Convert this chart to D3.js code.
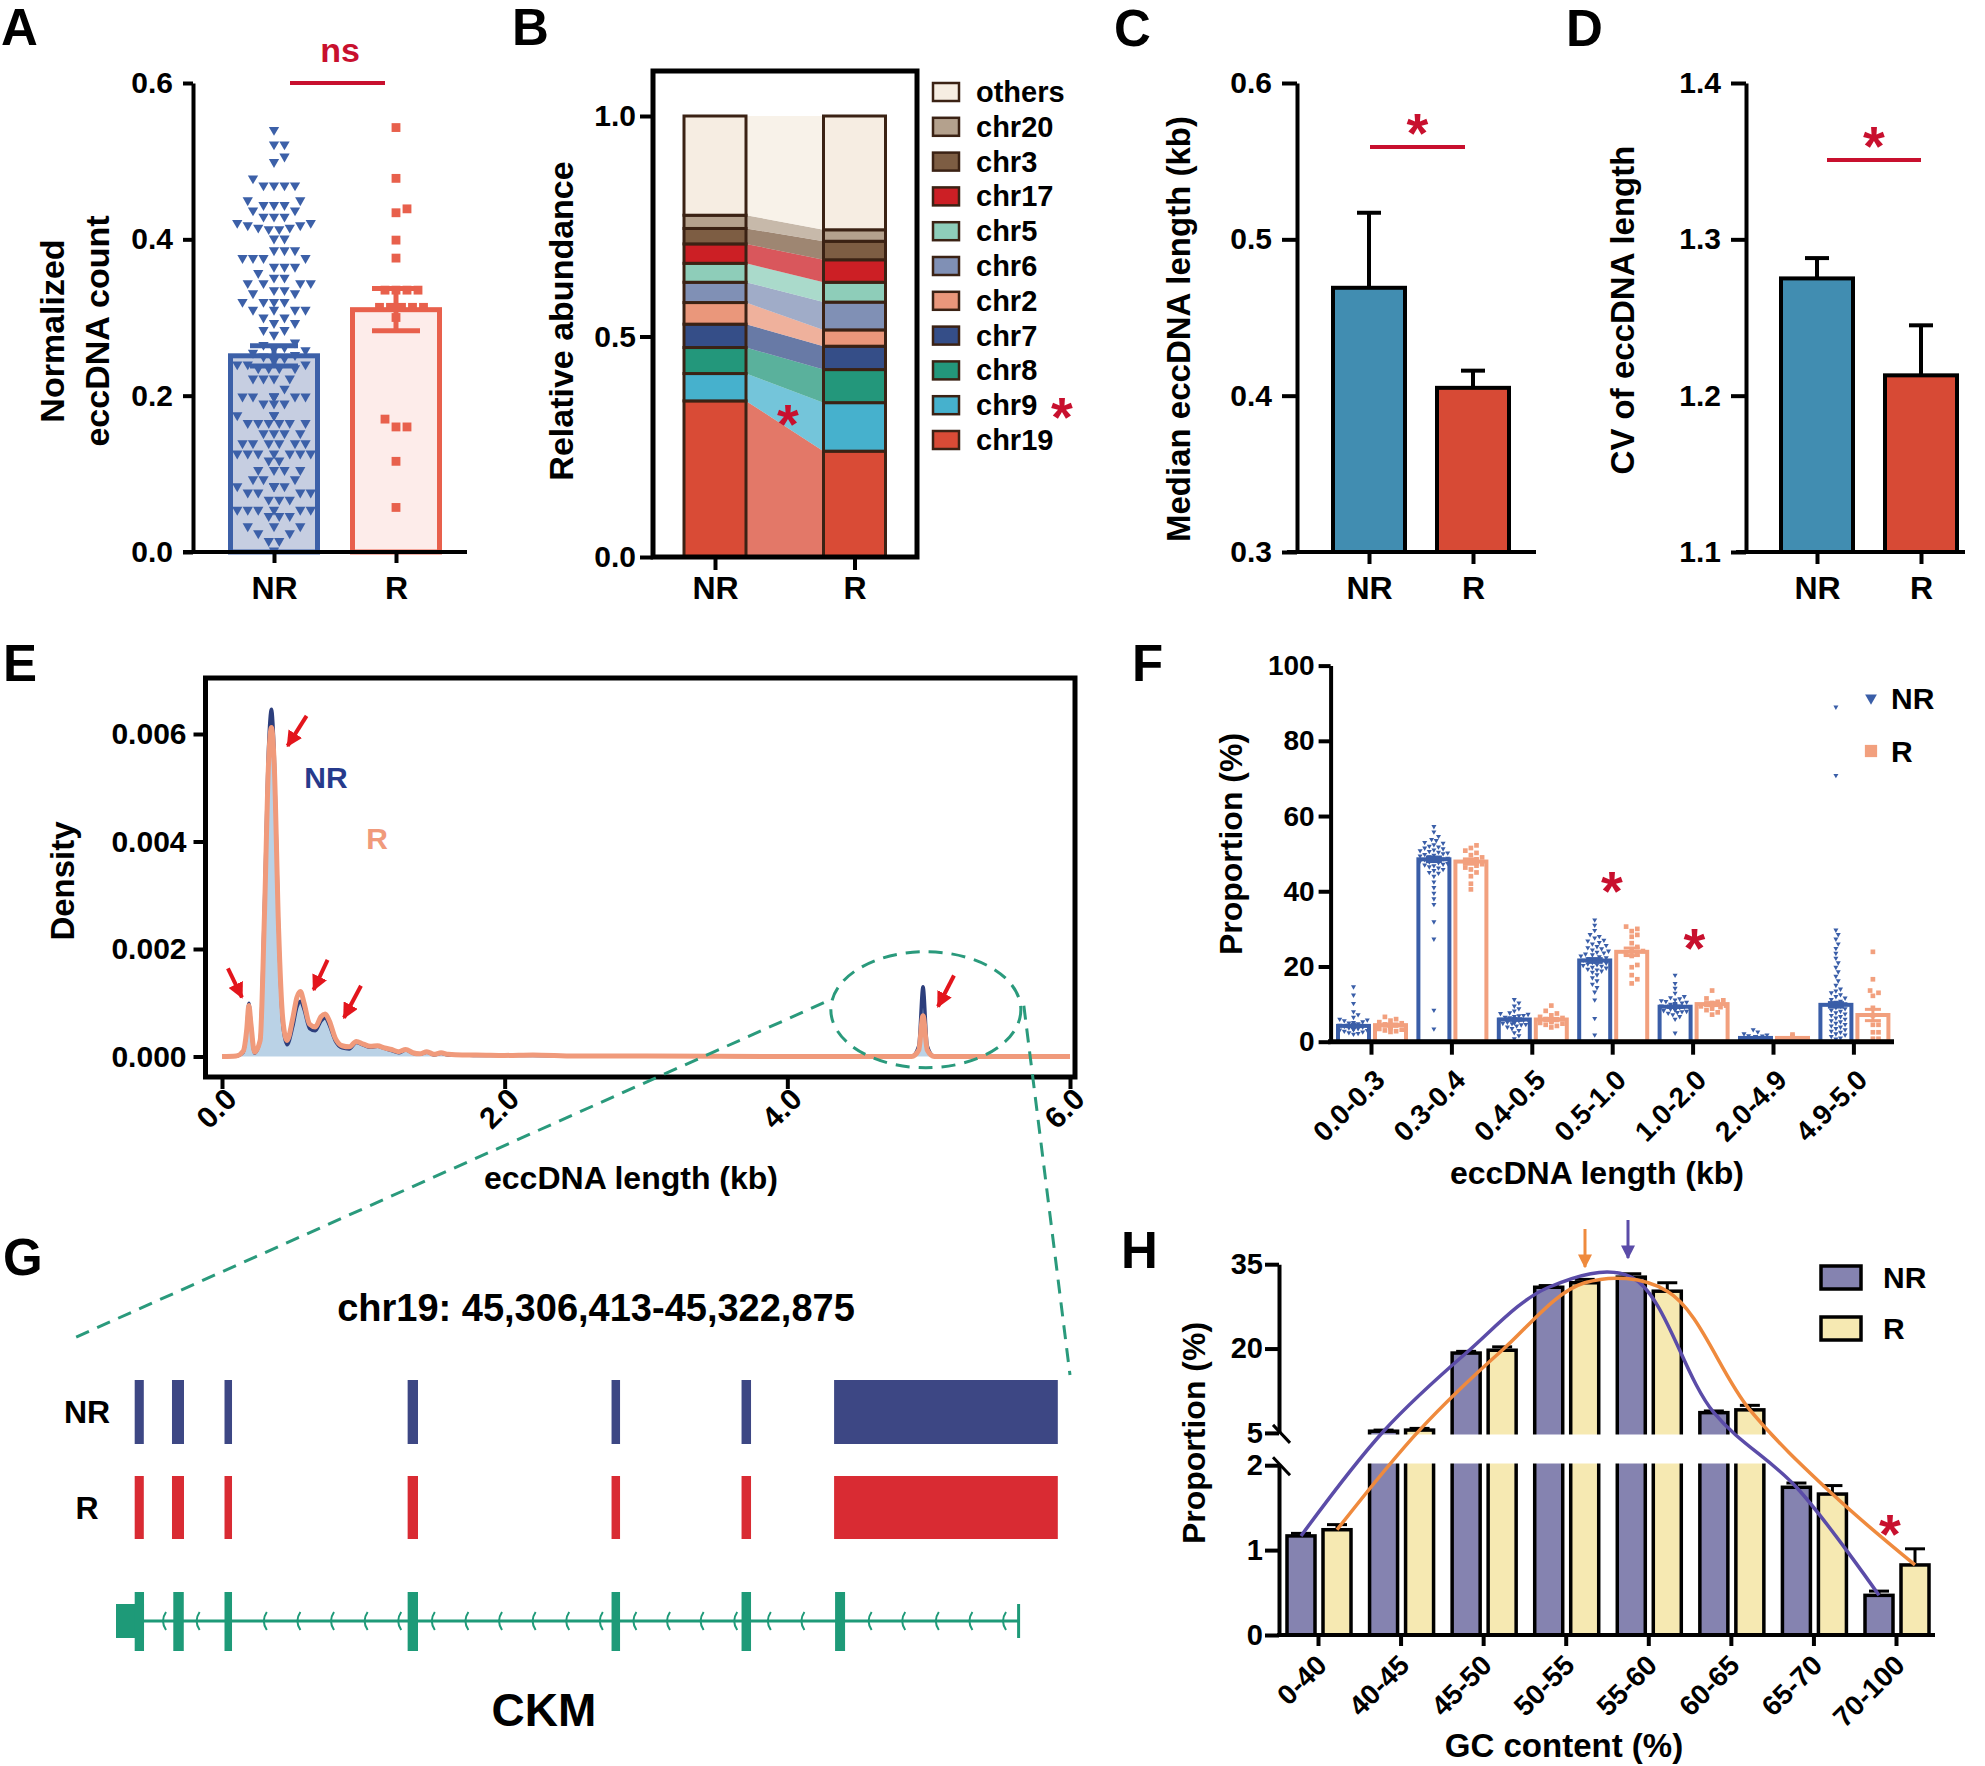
<!DOCTYPE html>
<html>
<head>
<meta charset="utf-8">
<script src="https://cdn.jsdelivr.net/npm/d3@7"></script>
<style>
  body { margin: 0; background: #fff; }
  svg { display: block; }
</style>
</head>
<body>
<div id="chart"></div>
<script>
const FONT = '"Liberation Sans", Arial, Helvetica, sans-serif';
const RED = "#c8102e";

// ---------------- data ----------------
const groups = ["NR", "R"];

// A: normalized eccDNA count per sample
const countNR = [0.540, 0.5215, 0.5215, 0.506, 0.499, 0.478, 0.469, 0.469, 0.469, 0.469,
  0.450, 0.450, 0.444, 0.444, 0.444, 0.437, 0.437, 0.429, 0.429, 0.429,
  0.421, 0.421, 0.418, 0.418, 0.415, 0.415, 0.413, 0.413, 0.401, 0.401,
  0.386, 0.386, 0.386, 0.376, 0.376, 0.376, 0.376, 0.365, 0.365, 0.365, 0.357,
  0.351, 0.351, 0.344, 0.344, 0.344, 0.344, 0.335, 0.335, 0.331, 0.331,
  0.320, 0.320, 0.320, 0.320, 0.310, 0.310, 0.310, 0.310, 0.300, 0.300,
  0.293, 0.293, 0.284, 0.284, 0.278, 0.268, 0.265, 0.262, 0.260, 0.258, 0.255,
  0.252, 0.250, 0.248, 0.245, 0.240, 0.240, 0.240, 0.235, 0.235, 0.235, 0.235,
  0.222, 0.222, 0.222, 0.222, 0.209, 0.199, 0.199, 0.199, 0.199, 0.199, 0.199, 0.199,
  0.190, 0.190, 0.190, 0.175, 0.175, 0.175, 0.165, 0.165, 0.165, 0.165, 0.165, 0.165,
  0.152, 0.152, 0.152, 0.152, 0.139, 0.139, 0.139, 0.139, 0.139, 0.139,
  0.126, 0.126, 0.126, 0.126, 0.126, 0.126, 0.126, 0.117, 0.117,
  0.105, 0.105, 0.105, 0.105, 0.093, 0.093, 0.093, 0.084, 0.084, 0.084, 0.084, 0.084,
  0.076, 0.076, 0.076, 0.076, 0.067, 0.067, 0.067, 0.054, 0.054, 0.054, 0.054, 0.054, 0.054,
  0.046, 0.046, 0.046, 0.033, 0.033, 0.033, 0.024, 0.024, 0.014, 0.014, 0.002];
const countR = [0.543, 0.478, 0.439, 0.434, 0.399, 0.376, 0.335, 0.335, 0.335, 0.335,
  0.313, 0.313, 0.313, 0.313, 0.313, 0.300, 0.170, 0.160, 0.160, 0.116, 0.057];
const countMean = [0.251, 0.310];
const countSem = [0.013, 0.027];

// B: chromosome composition
const chrNames = ["chr19", "chr9", "chr8", "chr7", "chr2", "chr6", "chr5", "chr17", "chr3", "chr20", "others"];
const chrColors = ["#d94b36", "#46b1cd", "#23977b", "#354e88", "#ea977b", "#8090b5",
  "#8ecdb9", "#cc1f25", "#7d5d43", "#b4a18d", "#f6ede2"];
const abundNR = [0.354, 0.062, 0.059, 0.053, 0.049, 0.046, 0.043, 0.044, 0.035, 0.030, 0.225];
const abundR = [0.240, 0.110, 0.075, 0.053, 0.037, 0.063, 0.045, 0.051, 0.042, 0.026, 0.258];

// C, D
const medianLen = [0.469, 0.405];
const medianErr = [0.048, 0.011];
const cvLen = [1.275, 1.213];
const cvErr = [0.013, 0.032];

// E: length density
const eLen = [0, 0.1, 0.15, 0.175, 0.19, 0.205, 0.23, 0.27, 0.3, 0.33, 0.35, 0.37, 0.4, 0.43, 0.46,
  0.5, 0.53, 0.555, 0.58, 0.62, 0.66, 0.7, 0.73, 0.76, 0.8, 0.85, 0.9, 0.95, 1.0, 1.05,
  1.1, 1.15, 1.2, 1.25, 1.3, 1.35, 1.4, 1.45, 1.5, 1.55, 1.6, 1.7, 1.8, 2.0, 2.2,
  2.5, 3.0, 4.0, 4.88, 4.93, 4.96, 4.99, 5.04, 5.2, 6.0];
const densNR = [0, 0.00001, 0.00008, 0.0005, 0.00099, 0.0006, 0.00006, 0.0003, 0.0028, 0.0058, 0.00646, 0.0056, 0.0024, 0.0006, 0.00022,
  0.00055, 0.00092, 0.00103, 0.00088, 0.00052, 0.00048, 0.00066, 0.00072, 0.00058, 0.0003, 0.00016, 0.00014, 0.00026, 0.00021, 0.00017,
  0.00019, 0.00015, 0.00011, 0.00007, 0.00012, 0.00006, 0.00004, 0.00008, 0.00003, 0.00006, 0.00003, 0.00003, 0.00002, 0.00002, 0.00002,
  0.00001, 0.00001, 0, 0, 0.0002, 0.0013, 0.0002, 0, 0, 0];
const densR = [0, 0.00001, 0.0001, 0.0005, 0.00095, 0.0006, 0.00008, 0.0003, 0.0026, 0.0055, 0.00612, 0.0054, 0.0024, 0.0007, 0.0003,
  0.0007, 0.0011, 0.00121, 0.001, 0.0006, 0.00055, 0.00074, 0.00079, 0.00066, 0.00035, 0.0002, 0.00018, 0.00028, 0.00023, 0.00019,
  0.0002, 0.00016, 0.00013, 0.00009, 0.00013, 0.00007, 0.00005, 0.00009, 0.00004, 0.00007, 0.00004, 0.00003, 0.00003, 0.00002, 0.00003,
  0.00001, 0.00001, 0, 0, 0.00012, 0.00076, 0.00012, 0, 0, 0];
const peakArrows = [[0.141, 0.0011, -14, -29], [0.464, 0.00578, 19, -30], [0.648, 0.00124, 14, -30],
  [0.863, 0.00072, 17, -32], [5.066, 0.00093, 16, -31]];

// F: length bins
const lenBins = ["0.0-0.3", "0.3-0.4", "0.4-0.5", "0.5-1.0", "1.0-2.0", "2.0-4.9", "4.9-5.0"];
const binMeanNR = [4.2, 48.5, 5.9, 21.6, 9.3, 1.0, 9.8];
const binMeanR = [4.4, 47.9, 5.9, 23.9, 10.0, 1.0, 7.1];
const binSemNR = [0.2, 0.6, 0.2, 0.5, 0.2, 0.05, 0.6];
const binSemR = [0.3, 0.7, 0.3, 1.0, 0.4, 0.1, 1.5];
const binPtsNR = [
  [14.6, 12.4, 10.2, 8.0, 7.2, 6.5, 6.0, 5.8, 5.6, 5.3, 5.1, 5.0, 4.8, 4.7, 4.6, 4.5, 4.4, 4.4, 4.3, 4.2, 4.2, 4.1, 4.0, 4.0,
    3.9, 3.8, 3.8, 3.7, 3.6, 3.6, 3.5, 3.4, 3.4, 3.3, 3.2, 3.1, 3.0, 2.8, 2.6, 2.4, 2.2, 2.0],
  [57.2, 55.8, 54.6, 53.8, 53.5, 53.0, 52.8, 52.4, 52.0, 51.8, 51.5, 51.3, 51.0, 50.8, 50.6, 50.4, 50.2, 50.0, 49.8, 49.6,
    49.4, 49.2, 49.0, 48.8, 48.6, 48.4, 48.2, 48.0, 47.8, 47.6, 47.4, 47.2, 47.0, 46.8, 46.5, 46.2, 45.8, 45.5, 45.0, 44.8,
    44.0, 42.5, 41.0, 39.5, 38.0, 36.5, 31.9, 27.3, 8.4, 3.4],
  [11.2, 10.3, 9.5, 8.8, 8.2, 7.7, 7.5, 7.3, 7.0, 6.9, 6.7, 6.5, 6.4, 6.2, 6.1, 6.0, 5.9, 5.8, 5.7, 5.6, 5.5, 5.4, 5.3,
    5.2, 5.1, 5.0, 4.9, 4.8, 4.6, 4.5, 4.2, 3.9, 3.5, 3.0, 2.4, 1.6, 0.8],
  [32.4, 31.0, 29.6, 28.5, 28.0, 27.6, 27.0, 26.8, 26.4, 26.0, 25.6, 25.3, 25.0, 24.7, 24.4, 24.1, 23.8, 23.6, 23.3, 23.1,
    22.8, 22.6, 22.3, 22.1, 21.9, 21.7, 21.5, 21.3, 21.1, 20.9, 20.7, 20.5, 20.3, 20.1, 19.8, 19.6, 19.3, 19.1, 18.8, 18.5,
    17.8, 17.0, 16.2, 15.3, 14.4, 13.2, 11.1, 6.2, 1.8],
  [17.7, 15.5, 14.2, 12.9, 12.0, 11.7, 11.4, 11.1, 10.9, 10.7, 10.5, 10.3, 10.2, 10.0, 9.9, 9.7, 9.6, 9.5, 9.4, 9.3, 9.2,
    9.1, 9.0, 8.9, 8.8, 8.7, 8.6, 8.4, 8.3, 8.1, 8.0, 7.8, 7.6, 7.2, 6.7, 6.0, 2.3],
  [3.2, 2.6, 2.1, 1.8, 1.6, 1.5, 1.4, 1.3, 1.2, 1.2, 1.1, 1.0, 1.0, 0.9, 0.9, 0.8, 0.8, 0.7, 0.6, 0.6, 0.5, 0.4, 0.4, 0.3, 0.2],
  [89.0, 70.8, 29.7, 28.5, 27.3, 26.0, 24.8, 23.5, 22.2, 21.0, 19.8, 18.6, 17.4, 16.2, 15.0, 14.0, 13.5, 13.0, 12.5,
    12.0, 11.6, 11.2, 10.8, 10.5, 10.1, 9.8, 9.5, 9.1, 8.8, 8.4, 8.1, 7.7, 7.4, 7.0, 6.7, 6.3, 6.0, 5.6, 5.3, 4.9, 4.6,
    4.2, 3.9, 3.5, 3.2, 2.8, 2.5, 2.1, 1.8, 1.4, 1.0, 0.7]
];
const binPtsR = [
  [6.6, 6.0, 5.6, 5.2, 4.9, 4.6, 4.4, 4.2, 4.0, 3.8, 3.6, 3.4, 3.2, 3.0, 2.8, 2.6],
  [52.2, 51.5, 50.8, 50.2, 49.6, 49.0, 48.5, 48.0, 47.6, 47.2, 46.8, 46.3, 45.8, 45.0, 44.0, 42.0, 40.5],
  [9.6, 8.2, 7.5, 7.0, 6.6, 6.3, 6.0, 5.8, 5.6, 5.4, 5.2, 5.0, 4.8, 4.5, 4.2, 3.8],
  [30.6, 30.0, 29.4, 28.4, 27.9, 26.2, 25.2, 24.6, 24.1, 23.6, 23.2, 22.8, 20.4, 19.8, 17.7, 16.6, 15.5],
  [13.6, 11.5, 11.0, 10.6, 10.3, 10.0, 9.8, 9.6, 9.4, 9.2, 8.8, 8.4, 7.8, 7.2],
  [1.9, 1.5, 1.3, 1.1, 1.0, 0.9, 0.8, 0.7, 0.6, 0.5],
  [23.9, 16.6, 13.6, 13.0, 12.2, 9.0, 7.0, 4.5, 4.5, 2.5, 2.5, 0.8, 0.8]
];

// G: CKM locus
const locusStart = 45306413, locusEnd = 45322875;
const eccStarts = [45306754, 45307434, 45308392, 45311732, 45315451, 45317822, 45319510];
const eccEnds = [45306920, 45307653, 45308529, 45311921, 45315606, 45317995, 45323590];
const exonStarts = [45306754, 45307458, 45308392, 45311732, 45315451, 45317822, 45319528];
const exonEnds = [45306924, 45307649, 45308529, 45311921, 45315606, 45317995, 45319710];
const utrEnd = 45306924;

// H: GC content
const gcBins = ["0-40", "40-45", "45-50", "50-55", "55-60", "60-65", "65-70", "70-100"];
const gcNR = [1.167, 5.3, 19.2, 30.9, 32.7, 8.6, 1.74, 0.467];
const gcR = [1.24, 5.5, 19.7, 31.7, 30.2, 9.1, 1.66, 0.825];
const gcErrNR = [0.03, 0.2, 0.3, 0.3, 0.6, 0.3, 0.05, 0.05];
const gcErrR = [0.06, 0.3, 0.6, 0.6, 1.5, 0.8, 0.1, 0.19];

// ---------------- helpers ----------------
const svg = d3.select("#chart").append("svg")
  .attr("width", 1985).attr("height", 1766)
  .attr("font-family", FONT).attr("font-weight", "bold");
const defs = svg.append("defs");

function txt(x, y, s, fs, o = {}) {
  const t = svg.append("text").attr("x", x).attr("y", y)
    .attr("font-size", fs).attr("fill", o.fill || "#000")
    .attr("text-anchor", o.anchor || "middle")
    .attr("dominant-baseline", o.base || "central").text(s);
  if (o.rot) t.attr("transform", `rotate(${o.rot},${x},${y})`);
  return t;
}
function star(x, y, fs = 60) {
  return txt(x, y + 0.2 * fs, "*", fs, { fill: RED });
}
function axisStyle(g, fs) {
  g.attr("font-size", fs).attr("font-family", FONT).attr("font-weight", "bold");
  g.select(".domain").attr("stroke", "#000").attr("stroke-width", 4);
  g.selectAll(".tick line").attr("stroke", "#000").attr("stroke-width", 4);
  g.selectAll(".tick text").attr("fill", "#000");
}
function rotLabels(g, dx, dy) {
  g.selectAll(".tick text").attr("x", 0).attr("y", 0).attr("dy", 0)
    .attr("text-anchor", "end").attr("transform", `translate(${dx},${dy}) rotate(-45)`);
}
function hline(x1, x2, y, color = "#000", w = 4) {
  svg.append("line").attr("x1", x1).attr("x2", x2).attr("y1", y).attr("y2", y)
    .attr("stroke", color).attr("stroke-width", w);
}
function vline(x, y1, y2, color = "#000", w = 4) {
  svg.append("line").attr("x1", x).attr("x2", x).attr("y1", y1).attr("y2", y2)
    .attr("stroke", color).attr("stroke-width", w);
}
// simple beeswarm: each point goes to the nearest free slot around the centre
function swarm(vals, y, cx, d, maxOff) {
  const placed = [];
  [...vals].sort((a, b) => a - b).forEach(v => {
    const py = y(v);
    let px = cx;
    for (let k = 0; k < 400; k++) {
      const off = (k % 2 ? 1 : -1) * Math.ceil(k / 2) * d / 2;
      if (Math.abs(off) > maxOff) break;
      if (placed.every(p => (p.x - cx - off) ** 2 + (p.y - py) ** 2 >= d * d)) { px = cx + off; break; }
    }
    placed.push({ x: px, y: py });
  });
  return placed;
}
function marker(id, color, size) {
  defs.append("marker").attr("id", id).attr("viewBox", "0 0 10 10")
    .attr("refX", 9).attr("refY", 5).attr("markerWidth", size).attr("markerHeight", size)
    .attr("markerUnits", "userSpaceOnUse").attr("orient", "auto")
    .append("path").attr("d", "M0,0 L10,5 L0,10 z").attr("fill", color);
}
const triDown = (s) => d3.symbol(d3.symbolTriangle, s)();
const square = (s) => d3.symbol(d3.symbolSquare, s)();

// panel letters
[["A", 1, 45], ["B", 512, 45], ["C", 1114, 46], ["D", 1566, 46],
 ["E", 3, 681], ["F", 1132, 681], ["G", 3, 1275], ["H", 1121, 1268]]
  .forEach(([l, x, y]) => txt(x, y, l, 51, { anchor: "start", base: "alphabetic" }));

// ---------------- A ----------------
{
  const y = d3.scaleLinear().domain([0, 0.6]).range([552, 83]);
  const x = d3.scalePoint().domain(groups).range([274, 396]);
  const bw = 87;
  const fills = ["#c6cee1", "#fdecea"], strokes = ["#3c60a8", "#e8604c"];
  groups.forEach((g, i) => {
    svg.append("rect").attr("x", x(g) - bw / 2).attr("y", y(countMean[i]))
      .attr("width", bw).attr("height", y(0) - y(countMean[i]))
      .attr("fill", fills[i]).attr("stroke", strokes[i]).attr("stroke-width", 5);
  });
  svg.append("g").selectAll("path").data(swarm(countNR, y, x("NR"), 10.5, 41)).join("path")
    .attr("d", triDown(46)).attr("transform", d => `translate(${d.x},${d.y}) rotate(180)`)
    .attr("fill", strokes[0]);
  svg.append("g").selectAll("path").data(swarm(countR, y, x("R"), 11, 34)).join("path")
    .attr("d", square(78)).attr("transform", d => `translate(${d.x},${d.y})`)
    .attr("fill", strokes[1]);
  groups.forEach((g, i) => {
    const lo = y(countMean[i] - countSem[i]), hi = y(countMean[i] + countSem[i]);
    vline(x(g), lo, hi, strokes[i], 5);
    hline(x(g) - 24, x(g) + 24, lo, strokes[i], 5);
    hline(x(g) - 24, x(g) + 24, hi, strokes[i], 5);
  });
  const ay = svg.append("g").attr("transform", "translate(193,0)")
    .call(d3.axisLeft(y).tickValues([0, 0.2, 0.4, 0.6]).tickFormat(d3.format(".1f"))
      .tickSize(10).tickPadding(10).tickSizeOuter(0));
  axisStyle(ay, 30);
  hline(183, 467, 552);
  const ax = svg.append("g").attr("transform", "translate(0,552)")
    .call(d3.axisBottom(x).tickSize(11).tickSizeOuter(0));
  ax.select(".domain").remove();
  axisStyle(ax, 32);
  ax.selectAll(".tick text").attr("y", 35).attr("dy", "0.36em");
  txt(52, 331, "Normalized", 34, { rot: -90 });
  txt(97, 331, "eccDNA count", 34, { rot: -90 });
  hline(290, 385, 83, RED, 4);
  txt(340, 50, "ns", 34, { fill: RED });
}

// ---------------- B ----------------
{
  const y = d3.scaleLinear().domain([0, 1]).range([557, 116]);
  const x = d3.scalePoint().domain(groups).range([715, 854.5]);
  const bw = 62;
  const rows = groups.map((g, gi) => {
    const r = { group: g };
    chrNames.forEach((c, ci) => { r[c] = (gi === 0 ? abundNR : abundR)[ci]; });
    return r;
  });
  const series = d3.stack().keys(chrNames)(rows);
  const xl = x("NR") + bw / 2, xr = x("R") - bw / 2;
  svg.append("g").selectAll("path").data(series).join("path")
    .attr("d", s => `M${xl},${y(s[0][0])}L${xl},${y(s[0][1])}L${xr},${y(s[1][1])}L${xr},${y(s[1][0])}Z`)
    .attr("fill", (s, i) => chrColors[i]).attr("fill-opacity", 0.75);
  series.forEach((s, i) => {
    svg.append("g").selectAll("rect").data(s).join("rect")
      .attr("x", d => x(d.data.group) - bw / 2).attr("width", bw)
      .attr("y", d => y(d[1])).attr("height", d => y(d[0]) - y(d[1]))
      .attr("fill", chrColors[i]).attr("stroke", "#3b2214").attr("stroke-width", 3);
  });
  svg.append("rect").attr("x", 653).attr("y", 71).attr("width", 264).attr("height", 486)
    .attr("fill", "none").attr("stroke", "#000").attr("stroke-width", 5);
  const ay = svg.append("g").attr("transform", "translate(653,0)")
    .call(d3.axisLeft(y).tickValues([0, 0.5, 1]).tickFormat(d3.format(".1f"))
      .tickSize(13).tickPadding(4).tickSizeOuter(0));
  ay.select(".domain").remove();
  axisStyle(ay, 30);
  const ax = svg.append("g").attr("transform", "translate(0,557)")
    .call(d3.axisBottom(x).tickSize(13).tickSizeOuter(0));
  ax.select(".domain").remove();
  axisStyle(ax, 32);
  ax.selectAll(".tick text").attr("y", 30).attr("dy", "0.36em");
  txt(561, 321, "Relative abundance", 34, { rot: -90 });
  star(788, 412, 56);
  // legend
  const legend = chrNames.map((c, i) => ({ c, col: chrColors[i] })).reverse();
  legend.forEach((d, i) => {
    const cy = 92 + i * 34.8;
    svg.append("rect").attr("x", 933).attr("y", cy - 9).attr("width", 26).attr("height", 18)
      .attr("fill", d.col).attr("stroke", "#3b2214").attr("stroke-width", 2.5);
    txt(976, cy, d.c, 29, { anchor: "start" });
    if (d.c === "chr9") star(1062, cy, 56);
  });
}

// ---------------- C & D ----------------
function errBarPanel(vals, errs, dom, ticks, axX, xr, endX, label, labX, labY, sigY, sigX) {
  const y = d3.scaleLinear().domain(dom).range([552, 83]);
  const x = d3.scalePoint().domain(groups).range(xr);
  const bw = 72, cols = ["#418db1", "#d74a35"];
  groups.forEach((g, i) => {
    vline(x(g), y(vals[i]), y(vals[i] + errs[i]), "#000", 4);
    hline(x(g) - 12, x(g) + 12, y(vals[i] + errs[i]), "#000", 4);
    svg.append("rect").attr("x", x(g) - bw / 2).attr("y", y(vals[i]))
      .attr("width", bw).attr("height", y(dom[0]) - y(vals[i]))
      .attr("fill", cols[i]).attr("stroke", "#000").attr("stroke-width", 4);
  });
  const ay = svg.append("g").attr("transform", `translate(${axX},0)`)
    .call(d3.axisLeft(y).tickValues(ticks).tickFormat(d3.format(".1f"))
      .tickSize(15).tickPadding(10).tickSizeOuter(0));
  axisStyle(ay, 30);
  hline(axX - 10, endX, 552);
  const ax = svg.append("g").attr("transform", "translate(0,552)")
    .call(d3.axisBottom(x).tickSize(12).tickSizeOuter(0));
  ax.select(".domain").remove();
  axisStyle(ax, 32);
  ax.selectAll(".tick text").attr("y", 35).attr("dy", "0.36em");
  txt(labX, labY, label, 33, { rot: -90 });
  hline(sigX[0], sigX[1], sigY, RED, 4);
  star((sigX[0] + sigX[1]) / 2, sigY - 26, 56);
}
errBarPanel(medianLen, medianErr, [0.3, 0.6], [0.3, 0.4, 0.5, 0.6], 1297, [1369, 1473], 1536,
  "Median eccDNA length (kb)", 1178, 329, 147, [1370, 1465]);
errBarPanel(cvLen, cvErr, [1.1, 1.4], [1.1, 1.2, 1.3, 1.4], 1746, [1817, 1921], 1965,
  "CV of eccDNA length", 1622, 310, 160, [1827, 1921]);

// ---------------- E ----------------
const xE = d3.scaleLinear().domain([0, 6]).range([222, 1070]);
const yE = d3.scaleLinear().domain([0, 0.006]).range([1056.5, 734]);
{
  defs.append("clipPath").attr("id", "clipE").append("rect")
    .attr("x", 207).attr("y", 680).attr("width", 866).attr("height", 395);
  const pts = eLen.map((l, i) => ({ l, nr: densNR[i], r: densR[i] }));
  const plot = svg.append("g").attr("clip-path", "url(#clipE)");
  plot.append("path").datum(pts)
    .attr("d", d3.area().x(d => xE(d.l)).y0(yE(0)).y1(d => yE(d.nr)).curve(d3.curveMonotoneX))
    .attr("fill", "#b3cde3").attr("fill-opacity", 0.9);
  plot.append("path").datum(pts)
    .attr("d", d3.line().x(d => xE(d.l)).y(d => yE(d.nr)).curve(d3.curveMonotoneX))
    .attr("fill", "none").attr("stroke", "#2c3e7c").attr("stroke-width", 3.5);
  plot.append("path").datum(pts)
    .attr("d", d3.line().x(d => xE(d.l)).y(d => yE(d.r)).curve(d3.curveMonotoneX))
    .attr("fill", "none").attr("stroke", "#f09a7b").attr("stroke-width", 5);
  svg.append("rect").attr("x", 205.5).attr("y", 678).attr("width", 869.5).attr("height", 399)
    .attr("fill", "none").attr("stroke", "#000").attr("stroke-width", 5);
  const ay = svg.append("g").attr("transform", "translate(205.5,0)")
    .call(d3.axisLeft(yE).tickValues([0, 0.002, 0.004, 0.006]).tickFormat(d3.format(".3f"))
      .tickSize(12).tickPadding(7).tickSizeOuter(0));
  ay.select(".domain").remove();
  axisStyle(ay, 30);
  const ax = svg.append("g").attr("transform", "translate(0,1077)")
    .call(d3.axisBottom(xE).tickValues([0, 2, 4, 6]).tickFormat(d3.format(".1f"))
      .tickSize(12).tickSizeOuter(0));
  ax.select(".domain").remove();
  axisStyle(ax, 30);
  rotLabels(ax, 16, 24);
  txt(62, 881, "Density", 33, { rot: -90 });
  txt(631, 1178, "eccDNA length (kb)", 32);
  txt(326, 777, "NR", 30, { fill: "#263a8c" });
  txt(377, 838, "R", 30, { fill: "#f09a7b" });
  marker("arrRed", "#e3151c", 16);
  peakArrows.forEach(([l, d, dx, dy]) => {
    const tx = xE(l), ty = yE(d);
    svg.append("line").attr("x1", tx + dx).attr("y1", ty + dy).attr("x2", tx).attr("y2", ty)
      .attr("stroke", "#e3151c").attr("stroke-width", 4).attr("marker-end", "url(#arrRed)");
  });
}

// ---------------- F ----------------
{
  const y = d3.scaleLinear().domain([0, 100]).range([1041.7, 665.6]);
  const x = d3.scalePoint().domain(lenBins).range([1371, 1853.4]);
  const bw = 31, colNR = "#3a5ea8", colR = "#f2a07e";
  lenBins.forEach((b, i) => {
    const cN = x(b) - 17.5, cR = x(b) + 19.5;
    svg.append("rect").attr("x", cN - bw / 2).attr("y", y(binMeanNR[i])).attr("width", bw)
      .attr("height", y(0) - y(binMeanNR[i])).attr("fill", "#fff").attr("stroke", colNR).attr("stroke-width", 4);
    svg.append("rect").attr("x", cR - bw / 2).attr("y", y(binMeanR[i])).attr("width", bw)
      .attr("height", y(0) - y(binMeanR[i])).attr("fill", "#fff").attr("stroke", colR).attr("stroke-width", 4);
    svg.append("g").selectAll("path").data(swarm(binPtsNR[i], y, cN, 4.6, 15)).join("path")
      .attr("d", triDown(11)).attr("transform", d => `translate(${d.x},${d.y}) rotate(180)`).attr("fill", colNR);
    svg.append("g").selectAll("path").data(swarm(binPtsR[i], y, cR, 5.6, 14)).join("path")
      .attr("d", square(22)).attr("transform", d => `translate(${d.x},${d.y})`).attr("fill", colR);
    [[cN, binMeanNR[i], binSemNR[i], colNR], [cR, binMeanR[i], binSemR[i], colR]].forEach(([c, m, s, col]) => {
      vline(c, y(m - s), y(m + s), col, 3);
      hline(c - 8, c + 8, y(m + s), col, 3);
      hline(c - 8, c + 8, y(m - s), col, 3);
    });
  });
  const ay = svg.append("g").attr("transform", "translate(1330.6,0)")
    .call(d3.axisLeft(y).tickValues([0, 20, 40, 60, 80, 100]).tickSize(12).tickPadding(4).tickSizeOuter(0));
  axisStyle(ay, 28);
  hline(1328, 1894, 1041.7, "#000", 5);
  const ax = svg.append("g").attr("transform", "translate(0,1041.7)")
    .call(d3.axisBottom(x).tickSize(13).tickSizeOuter(0));
  ax.select(".domain").remove();
  axisStyle(ax, 28);
  rotLabels(ax, 15, 40);
  txt(1231, 844, "Proportion (%)", 32, { rot: -90 });
  txt(1597, 1173, "eccDNA length (kb)", 32);
  star(1612, 879, 56);
  star(1694.5, 936, 56);
  svg.append("path").attr("d", triDown(60)).attr("transform", "translate(1871,698) rotate(180)").attr("fill", colNR);
  txt(1891, 698, "NR", 30, { anchor: "start" });
  svg.append("path").attr("d", square(150)).attr("transform", "translate(1871,751)").attr("fill", colR);
  txt(1891, 751, "R", 30, { anchor: "start" });
}

// ---------------- G ----------------
{
  const x = d3.scaleLinear().domain([locusStart, locusEnd]).range([116, 1018.6]);
  txt(596, 1308, "chr19: 45,306,413-45,322,875", 38);
  const tracks = [["NR", 1380, 64, "#3d4784"], ["R", 1476, 63, "#d92b33"]];
  tracks.forEach(([name, ty, th, col]) => {
    svg.append("g").selectAll("rect").data(eccStarts).join("rect")
      .attr("x", (d, i) => x(d)).attr("width", (d, i) => x(eccEnds[i]) - x(d))
      .attr("y", ty).attr("height", th).attr("fill", col);
    txt(87, ty + th / 2, name, 32);
  });
  const gc = "#1e9a78", gy = 1621;
  hline(x(locusStart), x(locusEnd), gy, gc, 3);
  vline(x(locusEnd), gy - 17, gy + 17, gc, 3);
  svg.append("rect").attr("x", x(locusStart)).attr("y", gy - 17)
    .attr("width", x(utrEnd) - x(locusStart)).attr("height", 34).attr("fill", gc);
  svg.append("g").selectAll("rect").data(exonStarts).join("rect")
    .attr("x", d => x(d)).attr("width", (d, i) => Math.max(6, x(exonEnds[i]) - x(d)))
    .attr("y", gy - 29).attr("height", 59).attr("fill", gc);
  const chev = d3.range(x(utrEnd) + 19, x(locusEnd) - 10, 33.6)
    .filter(cx => exonStarts.every((s, i) => cx < x(s) - 7 || cx > x(exonEnds[i]) + 7));
  svg.append("g").selectAll("path").data(chev).join("path")
    .attr("d", cx => `M${cx + 3},${gy - 9}Q${cx - 3},${gy} ${cx + 3},${gy + 9}`)
    .attr("fill", "none").attr("stroke", gc).attr("stroke-width", 2);
  txt(544, 1710, "CKM", 46);
}

// ---------------- H ----------------
{
  const yLo = d3.scaleLinear().domain([0, 2]).range([1635, 1465.2]);
  const yHi = d3.scaleLinear().domain([5, 35]).range([1432.9, 1264.2]);
  const y = v => v <= 2 ? yLo(v) : v >= 5 ? yHi(v) : yLo(2) + (v - 2) / 3 * (yHi(5) - yLo(2));
  const x = d3.scalePoint().domain(gcBins).range([1318, 1896]);
  const bw = 28, colNR = "#8583b0", colR = "#f6e9b2";
  gcBins.forEach((b, i) => {
    [[x(b) - 17, gcNR[i], colNR], [x(b) + 19, gcR[i], colR]].forEach(([c, v, col]) => {
      svg.append("rect").attr("x", c - bw / 2).attr("y", y(v)).attr("width", bw)
        .attr("height", y(0) - y(v)).attr("fill", col).attr("stroke", "#000").attr("stroke-width", 3.5);
    });
  });
  svg.append("rect").attr("x", 1282).attr("y", 1434.5).attr("width", 660).attr("height", 29).attr("fill", "#fff");
  gcBins.forEach((b, i) => {
    [[x(b) - 17, gcNR[i], gcErrNR[i]], [x(b) + 19, gcR[i], gcErrR[i]]].forEach(([c, v, e]) => {
      vline(c, y(v), y(v + e), "#000", 3);
      hline(c - 10, c + 10, y(v + e), "#000", 3);
    });
  });
  const line = d3.line().x(d => d[0]).y(d => y(d[1])).curve(d3.curveCatmullRom.alpha(0.5));
  svg.append("path").attr("d", line(gcBins.map((b, i) => [x(b) - 17, gcNR[i]])))
    .attr("fill", "none").attr("stroke", "#5b4ca8").attr("stroke-width", 3.5);
  svg.append("path").attr("d", line(gcBins.map((b, i) => [x(b) + 19, gcR[i]])))
    .attr("fill", "none").attr("stroke", "#ef8a3d").attr("stroke-width", 3.5);
  const aHi = svg.append("g").attr("transform", "translate(1279,0)")
    .call(d3.axisLeft(yHi).tickValues([5, 20, 35]).tickFormat(d3.format("d"))
      .tickSize(14).tickPadding(2).tickSizeOuter(0));
  axisStyle(aHi, 29);
  const aLo = svg.append("g").attr("transform", "translate(1279,0)")
    .call(d3.axisLeft(yLo).tickValues([0, 1, 2]).tickFormat(d3.format("d"))
      .tickSize(14).tickPadding(2).tickSizeOuter(0));
  axisStyle(aLo, 29);
  [yHi(5), yLo(2)].forEach(by => {
    svg.append("line").attr("x1", 1273).attr("y1", by - 8).attr("x2", 1290).attr("y2", by + 10)
      .attr("stroke", "#000").attr("stroke-width", 3);
  });
  hline(1277, 1935, 1635, "#000", 4);
  const ax = svg.append("g").attr("transform", "translate(0,1635)")
    .call(d3.axisBottom(x).tickSize(11).tickSizeOuter(0));
  ax.select(".domain").remove();
  axisStyle(ax, 28);
  rotLabels(ax, 10, 32);
  txt(1194, 1433, "Proportion (%)", 32, { rot: -90 });
  txt(1564, 1745, "GC content (%)", 33);
  marker("arrOr", "#ef8a3d", 14);
  marker("arrPu", "#5b4ca8", 14);
  svg.append("line").attr("x1", 1585).attr("y1", 1229).attr("x2", 1585).attr("y2", 1267)
    .attr("stroke", "#ef8a3d").attr("stroke-width", 3).attr("marker-end", "url(#arrOr)");
  svg.append("line").attr("x1", 1628).attr("y1", 1220).attr("x2", 1628).attr("y2", 1258)
    .attr("stroke", "#5b4ca8").attr("stroke-width", 3).attr("marker-end", "url(#arrPu)");
  [["NR", colNR, 1277.5], ["R", colR, 1328.5]].forEach(([n, col, cy]) => {
    svg.append("rect").attr("x", 1821).attr("y", cy - 11.5).attr("width", 40).attr("height", 23)
      .attr("fill", col).attr("stroke", "#000").attr("stroke-width", 3.5);
    txt(1883, cy, n, 30, { anchor: "start" });
  });
  star(1890, 1522, 56);
}

// ---------------- zoom connector (E -> G) ----------------
{
  const cx = xE(4.98), cy = yE(0.00087);
  const dash = "14 9", gcol = "#2a9a7c";
  svg.append("ellipse").attr("cx", cx).attr("cy", cy).attr("rx", 95).attr("ry", 58)
    .attr("fill", "none").attr("stroke", gcol).attr("stroke-width", 3).attr("stroke-dasharray", dash);
  svg.append("line").attr("x1", cx - 102).attr("y1", cy - 7).attr("x2", 74).attr("y2", 1338)
    .attr("stroke", gcol).attr("stroke-width", 3).attr("stroke-dasharray", dash);
  svg.append("line").attr("x1", cx + 98).attr("y1", cy - 4).attr("x2", 1070).attr("y2", 1375)
    .attr("stroke", gcol).attr("stroke-width", 3).attr("stroke-dasharray", dash);
}
</script>
</body>
</html>
